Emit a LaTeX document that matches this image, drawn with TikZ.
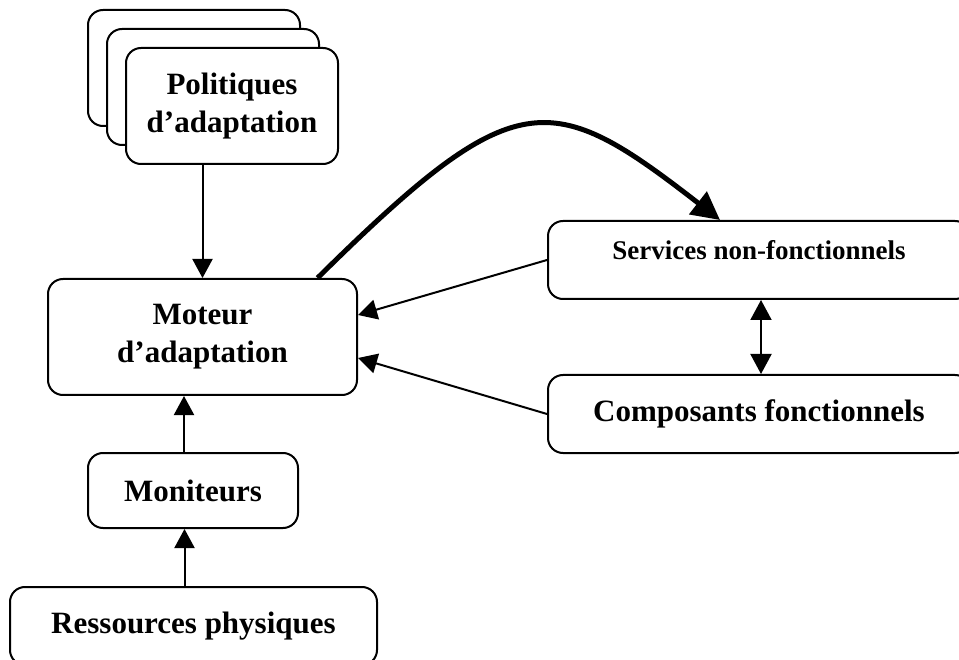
\documentclass[tikz,border=0pt]{standalone}
\usepackage{fontspec}
\setmainfont{Liberation Serif}
\usetikzlibrary{arrows.meta}
\begin{document}
\begin{tikzpicture}[x=1pt,y=-1pt,
  box/.style={draw, line width=2pt, rounded corners=15pt, fill=white,
    inner sep=0pt, align=center,
    font=\fontsize{31}{38}\selectfont\bfseries},
  smallbox/.style={box, font=\fontsize{27}{32}\selectfont\bfseries},
  arr/.style={line width=2pt, -{Triangle[length=19pt,width=20pt]}},
  dblarr/.style={line width=2pt,
    {Triangle[length=20pt,width=21pt]}-{Triangle[length=20pt,width=21pt]}},
  bigarr/.style={line width=5pt, -{Triangle[length=28pt,width=28pt]}}
]
\useasboundingbox (0,0) rectangle (959,660);
\clip (0,0) rectangle (959,660);

% stacked policy boxes
\node[box, minimum width=212pt, minimum height=116pt] (pa) at (194,68) {};
\node[box, minimum width=212pt, minimum height=116pt] (pb) at (213,87) {};
\node[box, minimum width=212pt, minimum height=116pt] (pol) at (232,106)
  {Politiques\\d'adaptation};

% adaptation engine and its inputs
\node[box, minimum width=309pt, minimum height=116pt] (mot) at (202.5,337)
  {Moteur\\d'adaptation};
\node[box, minimum width=210pt, minimum height=75pt] (mon) at (193,490.5)
  {Moniteurs};
\node[box, minimum width=367pt, minimum height=78pt] (res) at (193.5,626)
  {Ressources physiques};

% right-hand side
\node[smallbox, minimum width=422pt, minimum height=78pt,
  text height=18pt, text depth=18pt] (srv) at (759,260)
  {Services non-fonctionnels};
\node[box, minimum width=422pt, minimum height=78pt] (cmp) at (759,414)
  {Composants fonctionnels};

% connectors
\draw[arr] (mot.north |- pol.south) -- (mot.north);
\draw[arr] ([xshift=-9pt]mon.north) -- ([xshift=-9pt]mon.north |- mot.south);
\draw[arr] ([xshift=-9pt]res.north) -- ([xshift=-9pt]res.north |- mon.south);
\draw[arr] (srv.west) -- ([yshift=22pt]mot.east);
\draw[arr] (cmp.west) -- ([yshift=-21pt]mot.east);
\draw[dblarr] ([xshift=2pt]srv.south) -- ([xshift=2pt]cmp.north);
\draw[bigarr] ([xshift=115pt]mot.north) .. controls (516,82) and (550,88)
  .. ([xshift=-39pt]srv.north);
\end{tikzpicture}
\end{document}
